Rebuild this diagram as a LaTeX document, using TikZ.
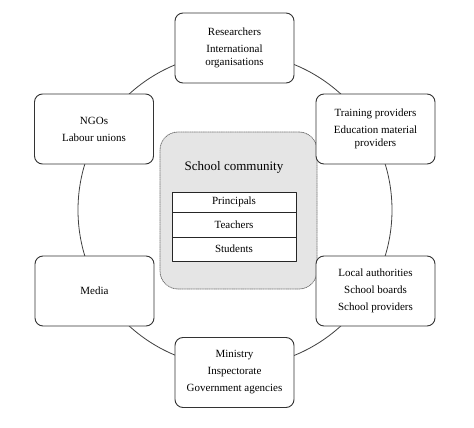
\documentclass[tikz,border=0pt]{standalone}
\usepackage{fontspec}
\setmainfont{Liberation Serif}
\usetikzlibrary{positioning}

\tikzset{
  actor/.style={draw=black!80,line width=0.9pt,rounded corners=8pt,fill=white,
    minimum width=119pt,minimum height=70pt,align=center,inner sep=2pt,
    font=\fontsize{11}{12.5}\selectfont},
  row/.style={draw=black!85,line width=0.9pt,fill=white,minimum width=124pt,
    inner sep=0pt,font=\fontsize{11}{12.5}\selectfont}
}

\begin{document}
\begin{tikzpicture}[line cap=round,line join=round,x=1pt,y=-1pt]
      \useasboundingbox (0,0) rectangle (474,428);
      % ring behind the partners
      \draw[black!75,line width=0.8pt] (235,210) circle (157pt);
      % school community in the middle
      \node[draw=black!55,densely dotted,line width=0.8pt,fill=black!10,rounded corners=18pt,
        minimum width=157pt,minimum height=157pt] (school) at (238.5,210.5) {};
      \node[font=\fontsize{13}{15}\selectfont] (community) at (234,167) {School community};
      \node[row,minimum height=20pt] (principals) at (234,202) {Principals};
      \node[row,minimum height=25pt] (teachers) at (234,224.5) {Teachers};
      \node[row,minimum height=24pt] (students) at (234,249) {Students};
      % partners round the ring
      \node[actor] (research) at (234.5,48) {Researchers\\[4.5pt]International\\organisations};
      \node[actor] (ngo) at (94,129) {NGOs\\[4.5pt]Labour unions};
      \node[actor] (training) at (375.5,129) {Training providers\\[4.5pt]Education material\\providers};
      \node[actor] (media) at (94.5,291) {Media};
      \node[actor] (local) at (375.5,291) {Local authorities\\[4.5pt]School boards\\[4.5pt]School providers};
      \node[actor] (ministry) at (234.5,372.5) {Ministry\\[4.5pt]Inspectorate\\[4.5pt]Government agencies};
\end{tikzpicture}
\end{document}
